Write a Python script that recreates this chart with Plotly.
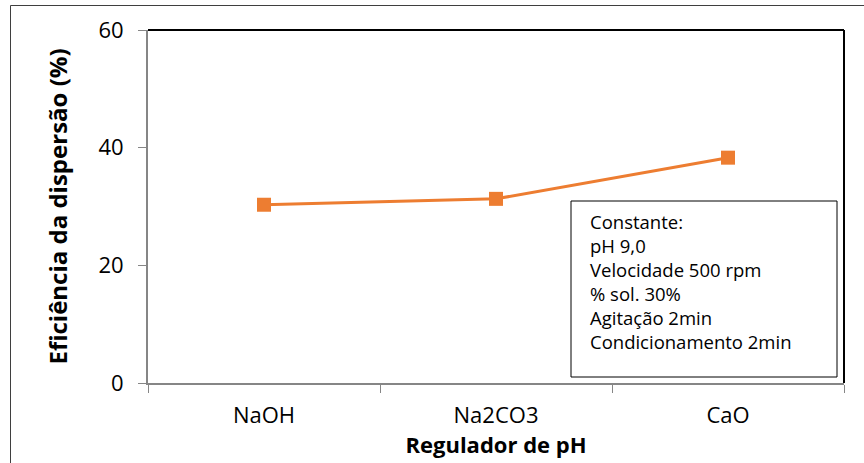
import plotly.graph_objects as go

categories = ["NaOH", "Na2CO3", "CaO"]
values = [30.3, 31.3, 38.3]
y_ticks = [0, 20, 40, 60]
box_lines = ["Constante:", "pH 9,0", "Velocidade 500 rpm", "% sol. 30%", "Agitação 2min", "Condicionamento 2min"]

W, H = 864, 463
L, R, T, B = 148, 20, 30, 80
pw, ph = W - L - R, H - T - B

def px(x):
    return (x - L) / pw

def py(y):
    return (H - B - y) / ph

FONT = "Open Sans"

fig = go.Figure()
fig.add_trace(go.Scatter(
    x=categories, y=values, mode="lines+markers",
    line=dict(color="#ED7D31", width=3),
    marker=dict(symbol="square", size=14, color="#ED7D31"),
    showlegend=False,
))

fig.update_layout(
    width=W, height=H,
    margin=dict(l=L, r=R, t=T, b=B),
    paper_bgcolor="white", plot_bgcolor="white",
    font=dict(family=FONT, color="black"),
    xaxis=dict(
        type="category", range=[-0.5, 2.5],
        showline=True, linecolor="#868686", linewidth=2,
        ticks="outside", tickson="boundaries", ticklen=8, tickcolor="#868686",
        showgrid=False, tickfont=dict(size=22, family=FONT), ticklabelstandoff=12,
        title=dict(text="<b>Regulador de pH</b>", font=dict(size=22, family=FONT), standoff=5),
    ),
    yaxis=dict(
        range=[0, 60], tickvals=y_ticks,
        showline=True, linecolor="#868686", linewidth=2,
        ticks="outside", ticklen=8, tickcolor="#868686",
        showgrid=False, zeroline=False, tickfont=dict(size=22, family=FONT), ticklabelstandoff=10,
        title=dict(text="<b>Eficiência da dispersão (%)</b>", font=dict(size=24, family=FONT), standoff=24),
    ),
)

# plot area top and right borders
fig.add_shape(type="line", xref="paper", yref="paper", x0=0, x1=1, y0=1, y1=1,
              line=dict(color="black", width=2))
fig.add_shape(type="line", xref="paper", yref="paper", x0=1, x1=1, y0=0, y1=1,
              line=dict(color="black", width=2))
# outer chart border
fig.add_shape(type="rect", xref="paper", yref="paper",
              x0=px(10.5), x1=px(880), y0=py(480), y1=py(5.5),
              line=dict(color="#3f3f3f", width=1))
# text box
fig.add_shape(type="rect", xref="paper", yref="paper",
              x0=px(571), x1=px(837), y0=py(377), y1=py(201),
              line=dict(color="black", width=1), fillcolor="white")
fig.add_annotation(
    xref="paper", yref="paper", x=px(588), y=py(281.5),
    xanchor="left", yanchor="middle", align="left", showarrow=False,
    text="<br>".join(box_lines), font=dict(size=18.5, family=FONT, color="black"),
)

fig.write_html("out.html")
